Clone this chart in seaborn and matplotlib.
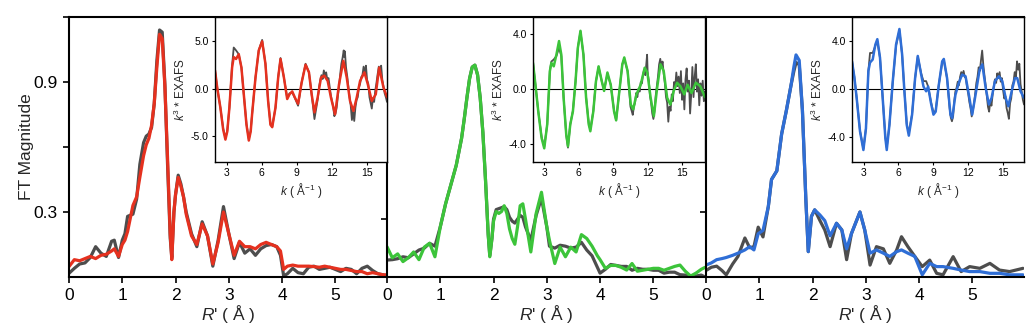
import numpy as np
import pandas as pd
import matplotlib
matplotlib.use('Agg')
import matplotlib.pyplot as plt
import seaborn as sns

# ---- R-space (FT magnitude) ----
r1_x = [0.0, 0.1, 0.2, 0.3, 0.4, 0.5, 0.6, 0.7, 0.8, 0.85, 0.93, 1.0, 1.05, 1.1, 1.2, 1.27, 1.33, 1.4,
        1.45, 1.5, 1.55, 1.6, 1.65, 1.7, 1.75, 1.8, 1.85, 1.9, 1.93, 1.97, 2.0, 2.05, 2.1, 2.15, 2.2,
        2.3, 2.4, 2.5, 2.6, 2.7, 2.8, 2.9, 3.0, 3.1, 3.2, 3.3, 3.4, 3.5, 3.6, 3.7, 3.8, 3.9, 3.97,
        4.03, 4.1, 4.2, 4.3, 4.4, 4.5, 4.6, 4.7, 4.8, 4.9, 5.0, 5.1, 5.2, 5.3, 5.4, 5.5, 5.6, 5.7,
        5.8, 5.9, 5.97]
r1_data = [0.017, 0.04, 0.06, 0.065, 0.09, 0.14, 0.11, 0.095, 0.165, 0.17, 0.09, 0.17, 0.2, 0.28, 0.29,
           0.36, 0.52, 0.62, 0.65, 0.66, 0.69, 0.8, 1.0, 1.14, 1.13, 0.89, 0.52, 0.18, 0.09, 0.3, 0.38,
           0.47, 0.43, 0.37, 0.3, 0.2, 0.14, 0.255, 0.19, 0.05, 0.17, 0.325, 0.2, 0.085, 0.16, 0.11,
           0.13, 0.1, 0.13, 0.145, 0.15, 0.14, 0.1, 0.005, 0.015, 0.04, 0.02, 0.015, 0.045, 0.05,
           0.035, 0.04, 0.045, 0.035, 0.025, 0.04, 0.035, 0.015, 0.04, 0.05, 0.03, 0.015, 0.01, 0.005]
r1_fit = [0.048, 0.08, 0.075, 0.085, 0.095, 0.085, 0.1, 0.105, 0.12, 0.13, 0.095, 0.15, 0.17, 0.21, 0.33,
          0.37, 0.46, 0.56, 0.61, 0.64, 0.7, 0.8, 0.97, 1.12, 1.1, 0.88, 0.55, 0.2, 0.08, 0.3, 0.38,
          0.46, 0.42, 0.37, 0.29, 0.19, 0.15, 0.245, 0.19, 0.06, 0.16, 0.3, 0.2, 0.1, 0.165, 0.14,
          0.14, 0.13, 0.15, 0.16, 0.15, 0.14, 0.12, 0.035, 0.05, 0.055, 0.05, 0.05, 0.05, 0.048,
          0.045, 0.05, 0.045, 0.04, 0.035, 0.035, 0.03, 0.025, 0.025, 0.015, 0.02, 0.015, 0.01, 0.01]

r2_x = [0.0, 0.1, 0.2, 0.3, 0.4, 0.5, 0.6, 0.7, 0.8, 0.9, 1.0, 1.1, 1.2, 1.3, 1.4, 1.45, 1.5, 1.55,
        1.6, 1.65, 1.7, 1.75, 1.8, 1.85, 1.9, 1.93, 1.97, 2.0, 2.05, 2.1, 2.15, 2.2, 2.25, 2.3, 2.35,
        2.4, 2.45, 2.5, 2.55, 2.6, 2.7, 2.8, 2.9, 3.0, 3.05, 3.15, 3.25, 3.35, 3.45, 3.55, 3.65, 3.75,
        3.85, 3.95, 4.0, 4.1, 4.2, 4.3, 4.4, 4.5, 4.6, 4.7, 4.8, 4.9, 5.0, 5.1, 5.2, 5.3, 5.4, 5.5,
        5.6, 5.7, 5.8, 5.9, 5.97]
r2_data = [0.088, 0.09, 0.095, 0.105, 0.1, 0.12, 0.14, 0.15, 0.175, 0.16, 0.26, 0.38, 0.48, 0.58, 0.72,
           0.82, 0.93, 1.03, 1.09, 1.1, 1.05, 0.93, 0.75, 0.5, 0.22, 0.11, 0.2, 0.3, 0.35, 0.355, 0.36,
           0.365, 0.35, 0.31, 0.29, 0.28, 0.3, 0.32, 0.31, 0.26, 0.19, 0.32, 0.41, 0.26, 0.16, 0.15,
           0.165, 0.16, 0.15, 0.155, 0.18, 0.14, 0.11, 0.05, 0.02, 0.04, 0.065, 0.06, 0.055, 0.055,
           0.035, 0.045, 0.04, 0.04, 0.035, 0.035, 0.02, 0.025, 0.025, 0.012, 0.01, 0.005, 0.005,
           0.01, 0.0]
r2_fit = [0.157, 0.1, 0.12, 0.08, 0.1, 0.13, 0.09, 0.155, 0.175, 0.105, 0.26, 0.38, 0.48, 0.58, 0.72,
          0.82, 0.93, 1.03, 1.09, 1.1, 1.05, 0.93, 0.75, 0.5, 0.22, 0.105, 0.2, 0.29, 0.34, 0.33, 0.34,
          0.37, 0.33, 0.25, 0.2, 0.17, 0.26, 0.37, 0.38, 0.3, 0.13, 0.33, 0.44, 0.26, 0.19, 0.07,
          0.155, 0.105, 0.155, 0.13, 0.22, 0.2, 0.16, 0.11, 0.09, 0.045, 0.06, 0.06, 0.05, 0.036,
          0.07, 0.03, 0.035, 0.04, 0.045, 0.045, 0.035, 0.045, 0.055, 0.062, 0.03, 0.005, 0.02,
          0.04, 0.05]

r3_x = [0.0, 0.1, 0.2, 0.3, 0.38, 0.5, 0.6, 0.73, 0.82, 0.9, 0.98, 1.07, 1.17, 1.23, 1.33, 1.42, 1.51,
        1.6, 1.65, 1.69, 1.75, 1.81, 1.875, 1.92, 1.98, 2.04, 2.14, 2.23, 2.33, 2.45, 2.55, 2.64,
        2.73, 2.89, 2.98, 3.08, 3.2, 3.33, 3.45, 3.58, 3.67, 3.79, 3.92, 4.06, 4.2, 4.33, 4.45,
        4.64, 4.79, 4.95, 5.14, 5.33, 5.51, 5.7, 5.95]
r3_data = [0.03, 0.045, 0.05, 0.03, 0.01, 0.06, 0.095, 0.18, 0.135, 0.14, 0.23, 0.185, 0.325, 0.45,
           0.49, 0.66, 0.77, 0.89, 0.95, 0.99, 0.98, 0.77, 0.355, 0.117, 0.28, 0.31, 0.26, 0.217,
           0.14, 0.248, 0.217, 0.08, 0.2, 0.3, 0.217, 0.055, 0.14, 0.13, 0.063, 0.125, 0.186, 0.14,
           0.095, 0.048, 0.078, 0.017, 0.01, 0.094, 0.025, 0.048, 0.04, 0.063, 0.032, 0.025, 0.04]
r3_fit = [0.055, 0.065, 0.08, 0.085, 0.09, 0.1, 0.11, 0.125, 0.14, 0.125, 0.2, 0.215, 0.325, 0.45,
          0.49, 0.66, 0.77, 0.89, 0.97, 1.025, 1.0, 0.77, 0.355, 0.117, 0.28, 0.31, 0.286, 0.26,
          0.19, 0.248, 0.217, 0.13, 0.2, 0.3, 0.217, 0.11, 0.125, 0.11, 0.095, 0.117, 0.125, 0.11,
          0.095, 0.01, 0.063, 0.048, 0.048, 0.04, 0.032, 0.025, 0.025, 0.017, 0.017, 0.01, 0.01]

# ---- k-space (k^3 EXAFS) insets: fits ----
k1_fit_k = [2.0, 2.2, 2.46, 2.7, 2.89, 3.05, 3.23, 3.46, 3.6, 3.8, 4.03, 4.26, 4.46, 4.69, 4.89, 5.05,
            5.17, 5.46, 5.74, 6.03, 6.31, 6.54, 6.74, 6.89, 7.17, 7.4, 7.6, 7.89, 8.17, 8.37, 8.6,
            8.83, 9.1, 9.4, 9.74, 10.03, 10.26, 10.5, 10.77, 11.06, 11.34, 11.63, 11.91, 12.26,
            12.6, 12.97, 13.26, 13.54, 13.83, 14.11, 14.4, 14.77, 15.06, 15.4, 15.74, 16.03, 16.4,
            16.7]
k1_fit = [1.9, 0.0, -2.0, -4.3, -5.35, -4.5, -2.0, 2.2, 3.3, 3.1, 3.6, 2.2, -0.6, -3.8, -5.45, -4.5,
          -2.7, 1.15, 4.0, 4.95, 2.6, -1.3, -3.8, -4.05, -2.0, 1.15, 3.1, 1.15, -1.1, -0.6, -0.3,
          -0.95, -1.6, 0.6, 2.5, 1.7, -0.6, -2.5, -0.95, 1.15, 1.35, 0.8, -0.95, -2.7, 0.45, 2.9,
          1.15, -1.3, -2.35, -0.95, 0.8, 1.7, 0.45, -1.3, -0.6, 2.2, 0.1, -0.9]

k2_fit_k = [2.0, 2.2, 2.46, 2.75, 2.98, 3.24, 3.47, 3.6, 3.81, 4.04, 4.27, 4.47, 4.67, 4.9, 5.05, 5.25,
            5.48, 5.71, 5.91, 6.14, 6.4, 6.63, 6.86, 7.0, 7.26, 7.49, 7.72, 8.0, 8.2, 8.49, 8.78,
            9.07, 9.25, 9.5, 9.79, 9.96, 10.25, 10.53, 10.74, 11.02, 11.39, 11.74, 11.97, 12.26,
            12.54, 12.83, 13.12, 13.4, 13.7, 13.98, 14.27, 14.56, 14.85, 15.19, 15.48, 15.83, 16.2,
            16.58, 17.0]
k2_fit = [1.9, 0.4, -1.65, -3.6, -4.35, -2.6, 1.3, 1.9, 1.65, 2.5, 3.5, 2.5, -0.65, -3.35, -4.2, -2.6,
          -1.65, 0.55, 3.0, 4.25, 2.5, -0.65, -2.6, -3.1, -1.65, 0.55, 1.65, 0.55, -0.15, 1.2, 0.3,
          -1.65, -2.3, -0.4, 1.8, 2.3, 1.3, -1.15, -1.5, -0.4, 0.3, 1.55, 1.2, -0.65, -2.0, 0.1,
          1.8, 1.3, -0.65, -1.15, -0.15, 0.45, 0.2, -0.4, 0.3, -0.3, 0.45, 0.2, -0.6]

k3_fit_k = [2.0, 2.2, 2.4, 2.69, 2.98, 3.2, 3.41, 3.55, 3.78, 4.01, 4.18, 4.41, 4.64, 4.87, 4.99, 5.22,
            5.51, 5.79, 6.08, 6.31, 6.51, 6.71, 6.89, 7.17, 7.43, 7.66, 7.95, 8.15, 8.38, 8.55, 8.8,
            9.01, 9.2, 9.47, 9.76, 9.9, 10.18, 10.47, 10.62, 10.9, 11.19, 11.48, 11.77, 12.06, 12.34,
            12.63, 12.98, 13.21, 13.5, 13.78, 14.01, 14.3, 14.64, 14.93, 15.22, 15.45, 15.74, 16.02,
            16.22, 16.5, 16.8]
k3_fit = [2.3, 1.0, -0.75, -3.55, -5.1, -3.3, 1.5, 2.2, 2.45, 3.7, 4.15, 2.6, -0.75, -4.1, -5.1, -3.0,
          0.65, 3.7, 5.0, 2.9, -0.2, -3.0, -3.9, -2.15, 0.9, 2.75, 1.2, 0.2, -0.2, 0.2, -1.2, -2.15,
          -1.9, 0.35, 2.3, 2.5, 0.9, -2.15, -2.45, -0.5, 0.5, 1.2, 1.05, -0.5, -2.15, -0.5, 1.6,
          2.05, 0.1, -1.3, -0.75, 0.65, 1.05, 0.65, -0.75, -1.45, -0.2, 0.9, 0.9, -0.2, -0.75]

# ---- k-space insets: measured data (noisy at high k) ----
k1_data_k = [2.0, 2.2, 2.46, 2.7, 2.89, 3.05, 3.23, 3.46, 3.6, 3.8, 4.03, 4.26, 4.46, 4.69, 4.89, 5.05,
             5.17, 5.46, 5.74, 6.03, 6.31, 6.54, 6.74, 6.89, 7.17, 7.4, 7.6, 7.89, 8.17, 8.37, 8.6,
             8.83, 9.1, 9.4, 9.74, 10.03, 10.26, 10.5, 10.77, 10.9, 11.0, 11.1, 11.2, 11.3, 11.4,
             11.5, 11.6, 11.7, 11.8, 11.9, 12.0, 12.1, 12.2, 12.3, 12.4, 12.5, 12.6, 12.7, 12.8,
             12.9, 13.0, 13.05, 13.1, 13.2, 13.3, 13.4, 13.5, 13.6, 13.7, 13.8, 13.9, 14.0, 14.1,
             14.2, 14.3, 14.4, 14.5, 14.6, 14.7, 14.8, 14.9, 15.0, 15.1, 15.2, 15.3, 15.4, 15.5,
             15.6, 15.7, 15.8, 15.9, 16.0, 16.1, 16.2, 16.3, 16.4, 16.5, 16.6, 16.7]
k1_data = [1.9, 0.0, -2.0, -4.2, -5.2, -4.4, -2.0, 2.4, 4.3, 4.0, 3.6, 2.2, -0.6, -3.7, -5.3, -4.4,
           -2.7, 1.15, 4.0, 5.1, 2.6, -1.3, -3.7, -4.0, -2.0, 1.2, 3.2, 1.15, -1.0, -0.5, -0.4, -1.0,
           -1.8, 0.6, 2.6, 1.7, -0.6, -3.2, -1.2, 0.2, 0.9, 1.4, 1.0, 1.9, 1.4, 1.7, 0.9, 1.1, 0.2,
           -0.7, -1.3, -1.9, -2.9, -2.6, -2.0, -0.8, 0.2, 1.5, 2.6, 3.2, 4.0, 3.3, 3.9, 2.2, 1.3,
           0.2, -0.9, -1.8, -3.3, -2.4, -3.4, -2.0, -1.2, -0.9, 0.1, 0.5, 1.2, 1.4, 2.3, 1.6, 2.4,
           0.9, 0.5, -0.9, -1.5, -2.1, -1.0, -1.4, -0.2, 0.6, 1.5, 2.3, 1.6, 2.4, 0.9, 0.2, -0.5,
           -0.9, -1.4]

k2_data_k = [2.0, 2.2, 2.46, 2.75, 2.98, 3.24, 3.47, 3.6, 3.81, 4.04, 4.27, 4.47, 4.67, 4.9, 5.05, 5.25,
             5.48, 5.71, 5.91, 6.14, 6.4, 6.63, 6.86, 7.0, 7.26, 7.49, 7.72, 8.0, 8.2, 8.49, 8.78,
             9.07, 9.25, 9.5, 9.79, 9.96, 10.25, 10.5, 10.6, 10.7, 10.8, 10.9, 11.0, 11.1, 11.2, 11.3,
             11.4, 11.5, 11.6, 11.7, 11.8, 11.9, 11.95, 12.0, 12.1, 12.2, 12.3, 12.4, 12.5, 12.6,
             12.7, 12.8, 12.9, 13.0, 13.1, 13.2, 13.3, 13.4, 13.5, 13.6, 13.7, 13.8, 13.9, 14.0,
             14.1, 14.2, 14.3, 14.4, 14.5, 14.6, 14.7, 14.8, 14.9, 15.0, 15.1, 15.2, 15.3, 15.4,
             15.5, 15.6, 15.7, 15.8, 15.9, 16.0, 16.1, 16.2, 16.3, 16.4, 16.5, 16.6, 16.7, 16.8,
             16.9, 17.0]
k2_data = [1.9, 0.4, -1.65, -3.5, -4.25, -2.6, 1.3, 2.0, 2.15, 2.4, 3.0, 2.4, -0.65, -3.4, -4.3, -2.6,
           -1.6, 0.55, 3.0, 4.2, 2.5, -0.6, -2.5, -3.0, -1.6, 0.55, 1.6, 0.55, -0.1, 1.1, 0.3, -1.6,
           -2.3, -0.4, 1.8, 2.2, 1.3, -1.3, -1.6, -1.9, -1.3, -1.0, -0.3, -0.6, 0.0, -0.2, 0.5, 0.4,
           1.1, 1.4, 1.0, 2.0, 2.5, 1.2, 0.6, -0.5, -1.0, -1.8, -2.2, -1.6, -0.5, 0.2, 0.9, 1.8,
           2.2, 1.6, 2.0, 1.1, 0.4, -0.6, -1.0, -2.4, -1.3, -1.6, -0.4, -0.9, 0.5, 0.1, 1.2, 0.2,
           0.9, -0.3, 1.3, -0.8, 0.4, -1.5, 0.7, 1.5, -0.2, 0.6, -1.8, -0.4, 1.6, -0.6, 0.9, 1.8,
           -0.2, 0.7, -1.2, 0.4, -0.5, 0.6, -0.9, -0.2]

k3_data_k = [2.0, 2.2, 2.4, 2.69, 2.98, 3.2, 3.41, 3.55, 3.78, 4.01, 4.18, 4.41, 4.64, 4.87, 4.99, 5.22,
             5.51, 5.79, 6.08, 6.31, 6.51, 6.71, 6.89, 7.17, 7.43, 7.66, 7.95, 8.15, 8.38, 8.55, 8.8,
             9.01, 9.2, 9.47, 9.76, 9.9, 10.18, 10.4, 10.5, 10.6, 10.7, 10.8, 10.9, 11.0, 11.1, 11.2,
             11.3, 11.4, 11.5, 11.6, 11.7, 11.8, 11.9, 12.0, 12.1, 12.2, 12.3, 12.4, 12.5, 12.6,
             12.7, 12.8, 12.9, 13.0, 13.1, 13.2, 13.3, 13.4, 13.5, 13.6, 13.7, 13.8, 13.9, 14.0,
             14.1, 14.2, 14.3, 14.4, 14.5, 14.6, 14.7, 14.8, 14.9, 15.0, 15.1, 15.2, 15.3, 15.4,
             15.5, 15.6, 15.7, 15.8, 15.9, 16.0, 16.1, 16.2, 16.3, 16.4, 16.5, 16.6, 16.7, 16.8]
k3_data = [2.3, 1.0, -0.75, -3.5, -5.0, -3.3, 1.5, 3.0, 3.0, 3.6, 4.0, 2.6, -0.75, -4.0, -4.9, -3.0,
           0.65, 3.6, 4.9, 2.9, -0.2, -2.9, -3.7, -2.1, 0.9, 2.7, 1.3, 0.65, 0.65, 0.2, -1.1, -2.0,
           -1.8, 0.35, 2.2, 2.4, 0.9, -1.6, -2.4, -2.7, -2.3, -1.0, -0.2, 0.1, 0.6, 0.3, 1.0, 1.4,
           1.1, 1.5, 1.0, 0.9, 0.1, -0.4, -1.1, -1.6, -2.3, -1.8, -1.2, -0.4, 0.5, 1.0, 1.8, 1.5,
           2.4, 3.2, 2.0, 1.1, 0.3, -0.6, -1.5, -1.9, -1.0, -1.4, -0.5, 0.2, 0.8, 0.5, 1.3, 0.9,
           1.4, 0.6, 0.9, -0.1, -0.8, -0.6, -1.6, -2.0, -2.5, -1.2, -0.8, 0.3, 0.6, 1.4, 0.9, 2.3,
           1.6, 2.1, 0.4, -0.2, -0.9, -1.3]

GRAY = '#4d4d4d'
W, H = 1030, 331


def main():
    sns.set_theme(style='ticks')
    plt.rcParams['font.family'] = ['Liberation Sans', 'DejaVu Sans']
    plt.rcParams['mathtext.fontset'] = 'custom'
    plt.rcParams['mathtext.rm'] = 'Liberation Sans'
    plt.rcParams['mathtext.it'] = 'Liberation Sans:italic'
    plt.rcParams['axes.unicode_minus'] = False

    fig = plt.figure(figsize=(W / 100, H / 100), dpi=100)

    panels = [
        (r1_x, r1_data, r1_fit, '#e5311f', 69, 1.2),
        (r2_x, r2_data, r2_fit, '#3cc43a', 387, 1.35),
        (r3_x, r3_data, r3_fit, '#2f6ed6', 706, 1.2),
    ]
    insets = [
        (k1_data_k, k1_data, k1_fit_k, k1_fit, 215, 16.7, (-7.7, 7.5), [-5, 0, 5]),
        (k2_data_k, k2_data, k2_fit_k, k2_fit, 533, 17.0, (-5.35, 5.26), [-4, 0, 4]),
        (k3_data_k, k3_data, k3_fit_k, k3_fit, 852, 16.8, (-6.1, 6.0), [-4, 0, 4]),
    ]

    for i, (x, data, fit, color, left, ymax) in enumerate(panels):
        ax = fig.add_axes([left / W, 54 / H, 318 / W, 260 / H])
        df = pd.DataFrame({'R': x, 'data': data, 'fit': fit})
        sns.lineplot(data=df, x='R', y='data', ax=ax, color=GRAY, lw=2.3, sort=False, estimator=None)
        sns.lineplot(data=df, x='R', y='fit', ax=ax, color=color, lw=2.3, sort=False, estimator=None)
        ax.set_xlim(0, 5.97)
        ax.set_ylim(0, ymax)
        ax.set_xticks(range(6))
        ax.set_yticks([0.3, 0.6, 0.9, 1.2])
        if i == 0:
            ax.set_yticklabels(['0.3', '', '0.9', ''])
            ax.set_ylabel('FT Magnitude', fontsize=12.5, labelpad=0)
        else:
            ax.set_yticklabels([])
            ax.set_ylabel('')
        ax.set_xlabel(r"$R$' ( Å )", fontsize=12.5, labelpad=0)
        ax.tick_params(direction='out', length=4, width=1.2, labelsize=12.5, colors='black', pad=4)
        ax.spines['right'].set_visible(False)
        for s in ['left', 'bottom', 'top']:
            ax.spines[s].set_linewidth(1.5)
            ax.spines[s].set_color('black')

    for (dk, data, fk, fit, left, kmax, ylim, yt), panel in zip(insets, panels):
        color = panel[3]
        right = panel[4] + 318
        ax = fig.add_axes([left / W, (H - 162) / H, (right - left) / W, 145 / H])
        ax.set_facecolor('white')
        ax.axhline(0, color='black', lw=0.8)
        sns.lineplot(x=dk, y=data, ax=ax, color=GRAY, lw=1.3, sort=False, estimator=None)
        sns.lineplot(x=fk, y=fit, ax=ax, color=color, lw=1.8, sort=False, estimator=None)
        ax.set_xlim(2, kmax)
        ax.set_ylim(*ylim)
        ax.set_xticks([3, 6, 9, 12, 15])
        ax.set_yticks(yt)
        ax.set_yticklabels([f'{v:.1f}' for v in yt])
        ax.set_xlabel(r'$k$ ( Å$^{-1}$ )', fontsize=8.5, labelpad=2)
        ax.set_ylabel(r'$k^3$ * EXAFS', fontsize=8.5, labelpad=2)
        ax.tick_params(direction='out', length=2.5, width=0.8, labelsize=7.5, colors='black', pad=2)
        for s in ax.spines.values():
            s.set_linewidth(1.0)
            s.set_color('black')

    fig.savefig('out.png', dpi=100)


if __name__ == '__main__':
    main()
